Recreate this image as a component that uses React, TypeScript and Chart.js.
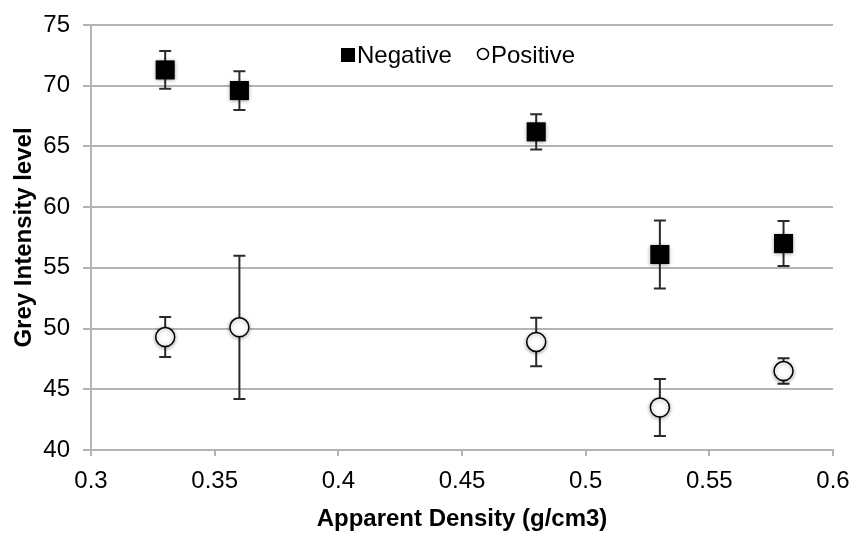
import React, { useEffect, useRef } from "react";
import { Chart, registerables } from "chart.js";

Chart.register(...registerables);

const densities = [0.33, 0.36, 0.48, 0.53, 0.58];
const negativeMeans = [71.3, 69.6, 66.2, 56.1, 57.0];
const negativeErrors = [1.55, 1.6, 1.45, 2.8, 1.85];
const positiveMeans = [49.3, 50.1, 48.9, 43.5, 46.5];
const positiveErrors = [1.65, 5.9, 2.0, 2.35, 1.05];
const seriesNames = ["Negative", "Positive"];
const xTitle = "Apparent Density (g/cm3)";
const yTitle = "Grey Intensity level";

const FONT = "'Liberation Sans', Arial, Helvetica, sans-serif";

const errorBarPlugin = {
  id: "errorBars",
  beforeDatasetsDraw(chart: any) {
    const ctx = chart.ctx;
    const xs = chart.scales.x;
    const ys = chart.scales.y;
    const errs = [negativeErrors, positiveErrors];
    ctx.save();
    ctx.strokeStyle = "#2a2a2a";
    ctx.lineWidth = 2;
    chart.data.datasets.forEach((ds: any, di: number) => {
      ds.data.forEach((p: any, i: number) => {
        const e = errs[di][i];
        const x = xs.getPixelForValue(p.x);
        const yTop = ys.getPixelForValue(p.y + e);
        const yBot = ys.getPixelForValue(p.y - e);
        ctx.beginPath();
        ctx.moveTo(x, yTop);
        ctx.lineTo(x, yBot);
        ctx.moveTo(x - 6, yTop);
        ctx.lineTo(x + 6, yTop);
        ctx.moveTo(x - 6, yBot);
        ctx.lineTo(x + 6, yBot);
        ctx.stroke();
      });
    });
    ctx.restore();
  },
  beforeDatasetDraw(chart: any) {
    const ctx = chart.ctx;
    ctx.save();
    ctx.shadowColor = "rgba(0,0,0,0.35)";
    ctx.shadowBlur = 4;
    ctx.shadowOffsetY = 1;
  },
  afterDatasetDraw(chart: any) {
    chart.ctx.restore();
  },
  afterDraw(chart: any) {
    const ctx = chart.ctx;
    const area = chart.chartArea;
    const cy = area.top + 30;
    const sx = area.left + 250;
    ctx.save();
    ctx.font = `24px ${FONT}`;
    ctx.textBaseline = "middle";
    ctx.fillStyle = "#000";
    ctx.fillRect(sx, cy - 7, 14, 14);
    ctx.fillText(seriesNames[0], sx + 16, cy + 1);
    const cx = sx + 142;
    ctx.beginPath();
    ctx.arc(cx, cy - 1, 5.5, 0, Math.PI * 2);
    ctx.fillStyle = "#fff";
    ctx.fill();
    ctx.lineWidth = 1.5;
    ctx.strokeStyle = "#000";
    ctx.stroke();
    ctx.fillStyle = "#000";
    ctx.fillText(seriesNames[1], cx + 8, cy + 1);
    ctx.restore();
  },
};

export default function App() {
  const ref = useRef<HTMLCanvasElement | null>(null);
  useEffect(() => {
    if (!ref.current) return;
    const chart = new Chart(ref.current, {
      type: "scatter",
      data: {
        datasets: [
          {
            label: seriesNames[0],
            data: densities.map((x, i) => ({ x, y: negativeMeans[i] })),
            pointStyle: "rect",
            pointRadius: 13.5,
            pointBackgroundColor: "#000",
            pointBorderColor: "#000",
            pointBorderWidth: 0,
          },
          {
            label: seriesNames[1],
            data: densities.map((x, i) => ({ x, y: positiveMeans[i] })),
            pointStyle: "circle",
            pointRadius: 9.5,
            pointBackgroundColor: "#fff",
            pointBorderColor: "#000",
            pointBorderWidth: 1.5,
          },
        ],
      },
      options: {
        animation: false,
        responsive: false,
        layout: { padding: { top: 25, right: 18, bottom: 0, left: 0 } },
        plugins: { legend: { display: false }, tooltip: { enabled: false } },
        scales: {
          x: {
            type: "linear",
            min: 0.3,
            max: 0.6,
            afterFit: (s: any) => {
              s.height = 84;
              s.paddingLeft = 0;
              s.paddingRight = 0;
            },
            ticks: {
              stepSize: 0.05,
              color: "#000",
              font: { family: FONT, size: 24 },
              padding: 11,
              maxRotation: 0,
              callback: (v: any) => String(Math.round(Number(v) * 100) / 100),
            },
            grid: { drawOnChartArea: false, color: "#b4b4b4", lineWidth: 2, tickLength: 6 },
            border: { color: "#b4b4b4", width: 2 },
            title: {
              display: true,
              text: xTitle,
              color: "#000",
              font: { family: FONT, size: 24, weight: "bold" },
              padding: { top: 0, bottom: 0 },
            },
          },
          y: {
            min: 40,
            max: 75,
            afterFit: (s: any) => {
              s.width = 91;
              s.paddingTop = 0;
              s.paddingBottom = 0;
            },
            ticks: {
              stepSize: 5,
              color: "#000",
              font: { family: FONT, size: 24 },
              padding: 13,
            },
            grid: { color: "#b4b4b4", lineWidth: 2, tickLength: 8 },
            border: { color: "#b4b4b4", width: 2 },
            title: {
              display: true,
              text: yTitle,
              color: "#000",
              font: { family: FONT, size: 24, weight: "bold" },
              padding: { top: 10, bottom: 0 },
            },
          },
        },
      },
      plugins: [errorBarPlugin],
    } as any);
    return () => chart.destroy();
  }, []);
  return (
    <div style={{ position: "absolute", left: 0, top: 0, width: 851, height: 534, background: "#fff" }}>
      <canvas ref={ref} width={851} height={534} style={{ display: "block" }} />
    </div>
  );
}
